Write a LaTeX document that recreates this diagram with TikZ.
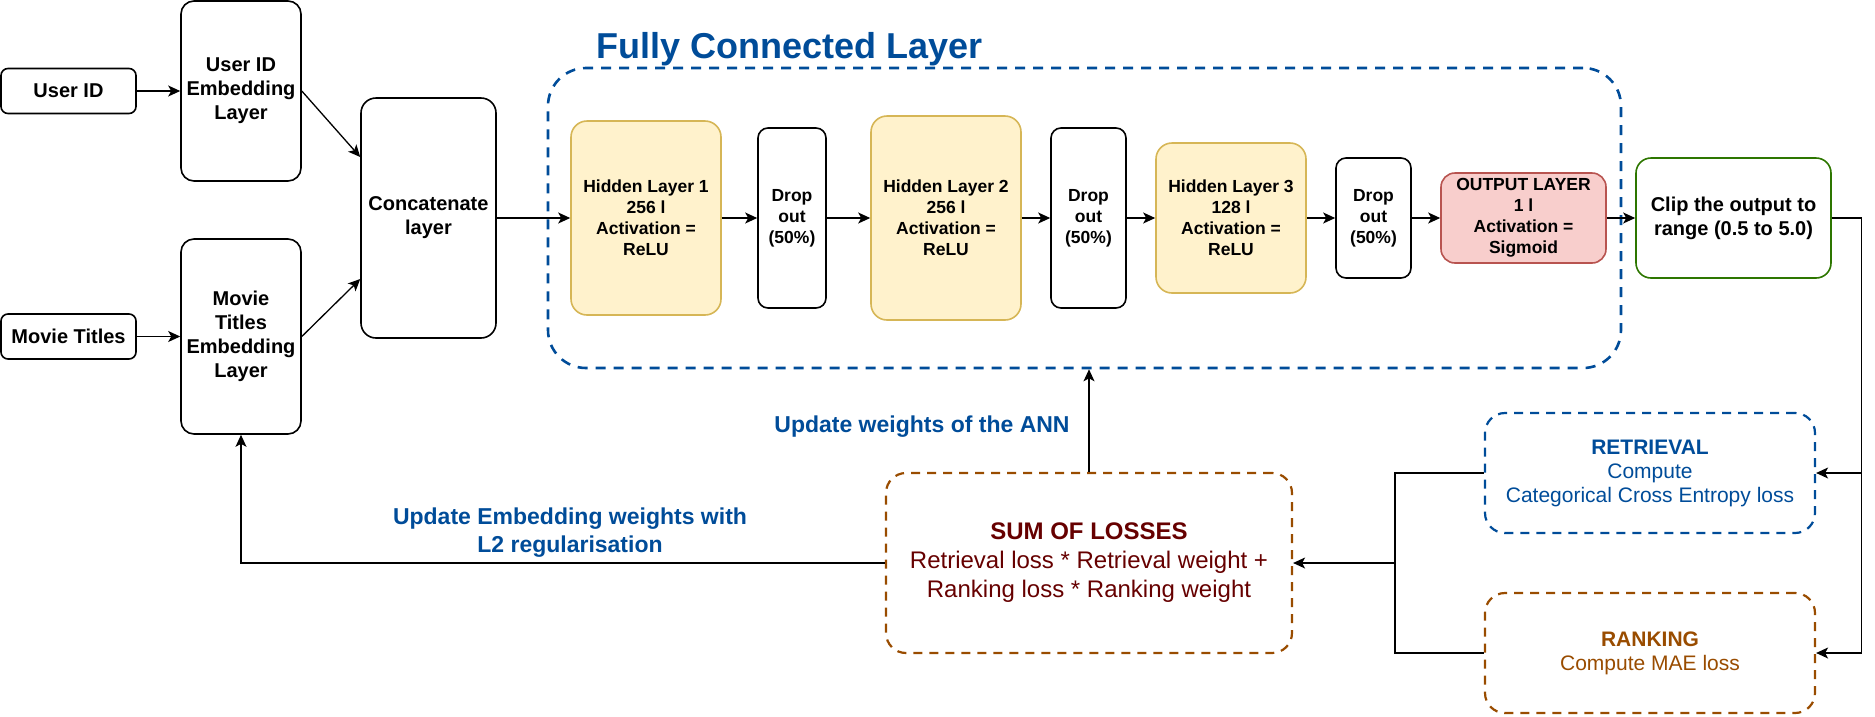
\documentclass[tikz,border=0pt]{standalone}
\usepackage{fontspec}
\setmainfont{Liberation Sans}
\usetikzlibrary{arrows.meta,positioning}

\definecolor{annblue}{HTML}{004C99}
\definecolor{lossbrown}{HTML}{994C00}
\definecolor{lossred}{HTML}{660000}
\definecolor{hidfill}{HTML}{FFF2CC}
\definecolor{hiddraw}{HTML}{D6B656}
\definecolor{outfill}{HTML}{F8CECC}
\definecolor{outdraw}{HTML}{B85450}
\definecolor{clipgreen}{HTML}{2D7600}

\begin{document}
\begin{tikzpicture}[x=1pt, y=-1pt,
    every node/.style={align=center, inner sep=0pt},
    blk/.style={draw, line width=1.6pt, rounded corners=#1,
        font=\fontsize{20}{24}\selectfont\bfseries},
    blk/.default=12pt,
    hid/.style={draw=hiddraw, fill=hidfill, line width=1.6pt, rounded corners=16pt,
        minimum width=150pt, font=\fontsize{17.5}{21}\selectfont\bfseries},
    drop/.style={draw, line width=1.6pt, rounded corners=10pt,
        minimum width=75pt, minimum height=180pt,
        font=\fontsize{17.5}{21}\selectfont\bfseries},
    fcbox/.style={draw=annblue, line width=2.6pt, dash pattern=on 10pt off 8pt,
        rounded corners=38pt},
    lossbox/.style={line width=2.2pt, dash pattern=on 9pt off 7pt, rounded corners=20pt,
        minimum width=330pt, minimum height=120pt,
        font=\fontsize{21}{24}\selectfont},
    lbl/.style={text=annblue, font=\fontsize{23}{28}\selectfont\bfseries},
    arr/.style={-{Stealth[length=12pt,width=11pt,inset=3pt]}, line width=1.3pt}]

    \useasboundingbox (0,0) rectangle (1875,716);

    % Inputs and embeddings
    \node[blk=7pt, minimum width=135pt, minimum height=45pt] (uid) at (68.5,91) {User ID};
    \node[blk=7pt, minimum width=135pt, minimum height=45pt] (mt) at (68.5,336.5) {Movie Titles};

    \node[blk=13pt, minimum width=120pt, minimum height=180pt] (uemb) at (241,91)
        {User ID\\Embedding\\Layer};
    \node[blk=13pt, minimum width=120pt, minimum height=195pt] (memb) at (241,336.5)
        {Movie\\Titles\\Embedding\\Layer};

    \node[blk=15pt, minimum width=135pt, minimum height=240pt] (concat) at (428.5,218)
        {Concatenate\\layer};

    % Fully connected layer
    \node[fcbox, minimum width=1073pt, minimum height=300pt] (fc) at (1084.5,218) {};
    \node[anchor=base west, text=annblue, font=\fontsize{36}{40}\selectfont\bfseries]
        (fctitle) at (596,58) {Fully Connected Layer};

    \node[hid, minimum height=194pt] (h1) at (646,218) {Hidden Layer 1\\256 l\\Activation =\\ReLU};
    \node[drop, minimum width=68pt] (d1) at (792,218) {Drop\\out\\(50\%)};
    \node[hid, minimum height=204pt] (h2) at (946,218) {Hidden Layer 2\\256 l\\Activation =\\ReLU};
    \node[drop] (d2) at (1088.5,218) {Drop\\out\\(50\%)};
    \node[hid, minimum height=150pt] (h3) at (1231,218) {Hidden Layer 3\\128 l\\Activation =\\ReLU};
    \node[drop, minimum height=120pt] (d3) at (1373.5,218) {Drop\\out\\(50\%)};
    \node[drop, draw=outdraw, fill=outfill, rounded corners=14pt,
        minimum width=165pt, minimum height=90pt] (outl) at (1523.5,218)
        {OUTPUT LAYER\\1 l\\Activation =\\Sigmoid};

    \node[blk=15pt, draw=clipgreen, minimum width=195pt, minimum height=120pt] (clip)
        at (1733.5,218) {Clip the output to\\range (0.5 to 5.0)};

    % Losses
    \node[lossbox, draw=annblue, text=annblue] (retr) at (1650,473)
        {\textbf{RETRIEVAL}\\Compute\\Categorical Cross Entropy loss};
    \node[lossbox, draw=lossbrown, text=lossbrown] (rank) at (1650,653)
        {\textbf{RANKING}\\Compute MAE loss};
    \node[lossbox, draw=lossbrown, text=lossred, minimum width=406pt, minimum height=180pt,
        font=\fontsize{24}{29}\selectfont] (sum) at (1089,563)
        {\textbf{SUM OF LOSSES}\\Retrieval loss * Retrieval weight +\\Ranking loss * Ranking weight};

    % Forward pass
    \draw[arr] (uid.east) -- (uid.east -| uemb.west);
    \draw[arr] (mt.east) -- (mt.east -| memb.west);
    \draw[arr] (uemb.east) -- ([yshift=61pt]concat.west);
    \draw[arr] (memb.east) -- ([yshift=-61pt]concat.west);
    \draw[arr] (concat) -- (h1);
    \draw[arr] (h1) -- (d1);
    \draw[arr] (d1) -- (h2);
    \draw[arr] (h2) -- (d2);
    \draw[arr] (d2) -- (h3);
    \draw[arr] (h3) -- (d3);
    \draw[arr] (d3) -- (outl);
    \draw[arr] (outl) -- (clip);

    % Output to the two losses
    \coordinate (rside) at ([xshift=30pt]clip.east);
    \draw[line width=1.3pt] (clip.east) -- (rside);
    \draw[arr] (rside) |- (retr.east);
    \draw[arr] (rside) |- (rank.east);

    \coordinate (ljoin) at (1395,563);
    \draw[line width=1.3pt] (retr.west) -| (ljoin) |- (rank.west);
    \draw[arr] (ljoin) -- (sum.east);

    % Weight updates
    \draw[arr] (sum.north) -- (sum.north |- fc.south);
    \draw[arr] (sum.west) -| (memb.south);

    \node[lbl] (annlbl) at (922,427) {Update weights of the ANN};
    \node[lbl] (emblbl) at (570,533) {Update Embedding weights with\\L2 regularisation};
\end{tikzpicture}
\end{document}
